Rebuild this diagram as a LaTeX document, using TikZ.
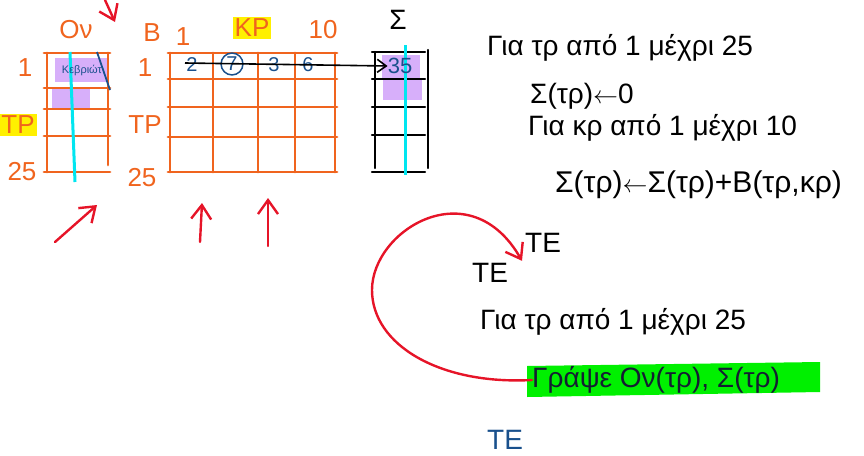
\documentclass[tikz,border=0pt]{standalone}
\usepackage{fontspec}
\setmainfont{Liberation Sans}
\usetikzlibrary{arrows.meta, positioning, calc}

\definecolor{penorange}{RGB}{240,100,30}
\definecolor{penblue}{RGB}{25,80,140}
\definecolor{penred}{RGB}{230,20,40}
\definecolor{hilite}{RGB}{215,175,250}
\definecolor{penyellow}{RGB}{255,240,0}
\definecolor{pengreen}{RGB}{0,240,0}
\definecolor{pencyan}{RGB}{0,230,240}
\definecolor{darkink}{RGB}{20,30,50}

\begin{document}
\begin{tikzpicture}[
  x=1pt, y=-1pt,
  orgrid/.style={penorange, line width=2.8pt, line cap=round},
  sumgrid/.style={black, line width=2.2pt, line cap=round},
  lbl/.style={text=penorange, font=\fontsize{26}{30}\selectfont, inner sep=0pt},
  num/.style={text=penblue, font=\fontsize{20}{22}\selectfont, inner sep=0pt},
  hand/.style={font=\fontsize{28}{32}\selectfont, inner sep=0pt, anchor=west},
  yelmark/.style={fill=penyellow, inner sep=2pt},
  shade/.style={fill=hilite},
  cyanline/.style={pencyan, line width=3pt},
  redarr/.style={penred, line width=2.4pt, line cap=round,
                 -{Straight Barb[length=14pt, width=20pt]}},
]
\useasboundingbox (0,0) rectangle (864,455);

% --- column On ---
\fill[shade] (55,58) rectangle (108,82);
\fill[shade] (52,88) rectangle (90,108);
\draw[orgrid] (47,53) -- (47,172) (108,53) -- (108,165);
\foreach \y in {53,88,109,136,172}
  \draw[orgrid] (44,\y) -- (110,\y);
\draw[cyanline] (70,52) -- (75,182);
\node[text=penblue, font=\fontsize{11}{12}\selectfont, inner sep=0pt] (name) at (82,70) {Κεβριώτ};
\draw[penblue, line width=1.8pt] (97,52) -- (110,90);
\node[lbl] (onhead) at (76,30) {Ον};
\node[lbl] (onr1) at (25,68) {1};
\node[lbl, yelmark] (ontp) at (18,125) {ΤΡ};
\node[lbl] (onr25) at (22,172) {25};

% --- table B ---
\foreach \x in {170,213,258,295,335}
  \draw[orgrid] (\x,53) -- (\x,172);
\foreach \y in {53,79,107,137,172}
  \draw[orgrid] (168,\y) -- (337,\y);
\node[lbl] (bhead) at (152,33) {Β};
\node[lbl] (bc1) at (183,37) {1};
\node[lbl, yelmark] (bkp) at (252,28) {ΚΡ};
\node[lbl] (bc10) at (323,30) {10};
\node[lbl] (br1) at (145,68) {1};
\node[lbl] (brtp) at (145,125) {ΤΡ};
\node[lbl] (br25) at (142,178) {25};
\node[num] (b1) at (192,65) {2};
\node[num, draw=penblue, circle, line width=1.5pt, inner sep=1.5pt] (b2) at (232,64) {7};
\node[num] (b3) at (274,65) {3};
\node[num] (b4) at (308,65) {6};

% --- column Sigma ---
\fill[shade] (382,55) rectangle (420,80);
\fill[shade] (383,80) rectangle (422,100);
\draw[sumgrid] (375,52) -- (375,168) (428,50) -- (428,168);
\foreach \y in {52,79,107,135,172}
  \draw[sumgrid] (372,\y) -- (425,\y);
\draw[cyanline] (405,45) -- (405,175);
\node[font=\fontsize{28}{32}\selectfont, inner sep=0pt] (shead) at (398,20) {Σ};
\node[num, font=\fontsize{22}{24}\selectfont] (s1) at (400,66) {35};

% row of B summed into Sigma
\coordinate (rowstart) at (185,63);
\draw[black, line width=1.6pt, -{Straight Barb[length=9pt, width=13pt]}] (rowstart) -- (s1.west);

% --- red pointers ---
\coordinate (p0a) at (105,0);   \coordinate (p0b) at (115,22);
\coordinate (p1a) at (55,242);  \coordinate (p1b) at (97,205);
\coordinate (p2a) at (200,242); \coordinate (p2b) at (202,203);
\coordinate (p3a) at (268,246); \coordinate (p3b) at (268,198);
\draw[redarr] (p0a) -- (p0b);
\draw[redarr] (p1a) -- (p1b);
\draw[redarr] (p2a) -- (p2b);
\draw[redarr] (p3a) -- (p3b);

% --- algorithm ---
\node[hand] (for1) at (487,48) {Για τρ από 1 μέχρι 25};
\node[hand] (init) at (530,96) {Σ(τρ)$\leftarrow$0};
\node[hand] (for2) at (528,128) {Για κρ από 1 μέχρι 10};
\node[hand, font=\fontsize{30}{34}\selectfont] (acc) at (555,185) {Σ(τρ)$\leftarrow$Σ(τρ)+Β(τρ,κρ)};
\node[hand] (te1) at (525,243) {ΤΕ};
\node[hand] (te2) at (472,273) {ΤΕ};
\node[hand] (for3) at (480,322) {Για τρ από 1 μέχρι 25};
\fill[pengreen] (527,366) -- (820,362) -- (820,392) -- (527,397) -- cycle;
\node[hand, text=darkink] (wrt) at (532,380) {Γράψε Ον(τρ), Σ(τρ)};
\node[hand, text=penblue] (te3) at (487,440) {ΤΕ};

% loop back
\coordinate (loopend) at ($(te1.south west)+(-3,8)$);
\draw[redarr] (wrt.west) .. controls (440,385) and (372,345) .. (372,290)
  .. controls (372,230) and (470,170) .. (loopend);
\end{tikzpicture}
\end{document}
